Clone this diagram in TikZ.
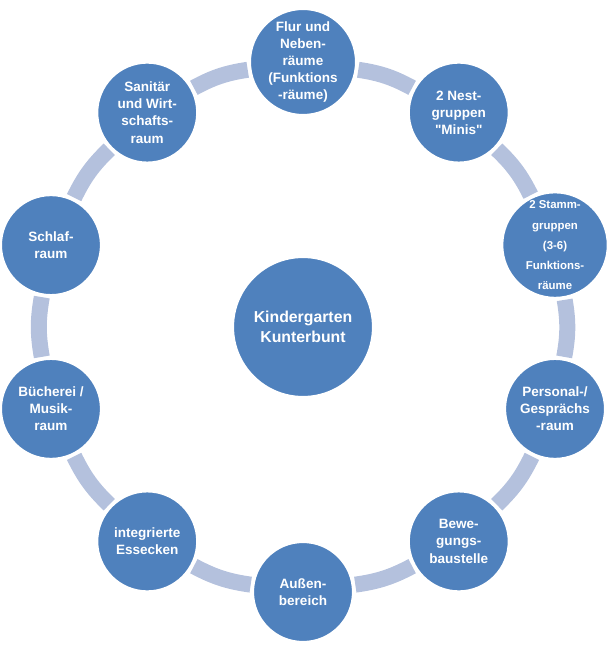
\documentclass[tikz,border=0pt]{standalone}
\usepackage{fontspec}
\setmainfont{Liberation Sans}
\newfontfamily\roomfont{Liberation Sans}
\usetikzlibrary{calc}
\definecolor{roomblue}{RGB}{79,129,189}
\definecolor{ringblue}{RGB}{180,193,221}

\begin{document}
\begin{tikzpicture}[
  room/.style={circle,fill=roomblue,draw=white,line width=1.2pt,minimum size=2cm,
    inner sep=0pt,text=white,align=center,font=\roomfont\bfseries\fontsize{7.7}{9.7}\selectfont},
  hub/.style={room,minimum size=2.8cm,font=\roomfont\bfseries\fontsize{9}{11.5}\selectfont},
  link/.style={ringblue,line width=0.32cm,shorten >=1pt,shorten <=1pt}
]
\useasboundingbox (-6.06,-6.42) rectangle (6.12,6.54);

% Centre
\node[hub] (kita) at (0,0) {Kindergarten\\Kunterbunt};

% Rooms, clockwise from the top
\node[room] (flur) at (90:5.3) {Flur und\\Neben-\\räume\\(Funktions\\-räume)};
\node[room] (nest) at (54:5.3) {2 Nest-\\gruppen\\"Minis"};
\node[room,font=\roomfont\bfseries\fontsize{6.5}{11.4}\selectfont] (stamm) at (18:5.3)
  {2 Stamm-\\gruppen\\(3-6)\\Funktions-\\räume};
\node[room] (personal) at (-18:5.3) {Personal-/\\Gesprächs\\-raum};
\node[room] (bewegung) at (-54:5.3) {Bewe-\\gungs-\\baustelle};
\node[room] (aussen) at (-90:5.3) {Außen-\\bereich};
\node[room] (essen) at (-126:5.3) {integrierte\\Essecken};
\node[room] (buecherei) at (-162:5.3) {Bücherei /\\Musik-\\raum};
\node[room] (schlaf) at (162:5.3) {Schlaf-\\raum};
\node[room] (sanitaer) at (126:5.3) {Sanitär\\und Wirt-\\schafts-\\raum};

% Ring segments between the rooms
\foreach \a/\b in {flur/nest,nest/stamm,stamm/personal,personal/bewegung,
  bewegung/aussen,aussen/essen,essen/buecherei,buecherei/schlaf,
  schlaf/sanitaer,sanitaer/flur}
  \draw[link] (\a) to[bend left=10] (\b);

\end{tikzpicture}
\end{document}
